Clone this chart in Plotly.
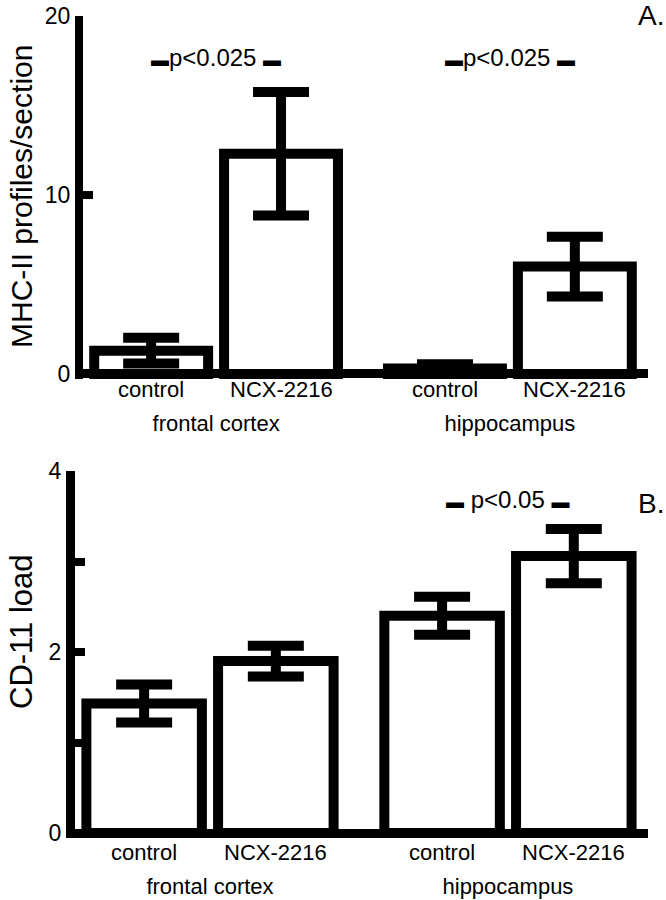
import plotly.graph_objects as go

# ---- data ----
regions = ["frontal cortex", "hippocampus"]
treatments = ["control", "NCX-2216"]

mhc_control = [1.3, 0.3]
mhc_control_err = [0.72, 0.25]
mhc_ncx = [12.3, 6.0]
mhc_ncx_err = [3.45, 1.67]

cd11_control = [1.43, 2.4]
cd11_control_err = [0.21, 0.21]
cd11_ncx = [1.9, 3.06]
cd11_ncx_err = [0.17, 0.3]

mhc_ticks = [0, 10, 20]
cd11_ticks = [0, 2, 4]

FONT = "Liberation Sans, Arial, DejaVu Sans, sans-serif"

fig = go.Figure()


def bar(x, y, err, xa, ya):
    return go.Bar(
        x=x, y=y, xaxis=xa, yaxis=ya,
        marker=dict(color="white", line=dict(color="black", width=10)),
        error_y=dict(type="data", array=err, visible=True, color="black",
                     thickness=10, width=28),
        showlegend=False, hoverinfo="skip",
    )


fig.add_trace(bar(regions, mhc_control, mhc_control_err, "x", "y"))
fig.add_trace(bar(regions, mhc_ncx, mhc_ncx_err, "x", "y"))
fig.add_trace(bar(regions, cd11_control, cd11_control_err, "x2", "y2"))
fig.add_trace(bar(regions, cd11_ncx, cd11_ncx_err, "x2", "y2"))

W, H = 666, 900

common_y = dict(
    automargin=False,
    showline=True, linecolor="black",
    zeroline=True, zerolinecolor="black", zerolinewidth=9,
    ticks="inside", ticklen=10, tickwidth=8, tickcolor="black",
    showgrid=False, tickfont=dict(size=23, color="black", family=FONT),
    fixedrange=True,
)
common_x = dict(
    automargin=False,
    type="category", showline=False, ticks="", showgrid=False, zeroline=False,
    range=[-0.453, 1.47], tickfont=dict(size=22, color="black", family=FONT),
    fixedrange=True,
)

fig.update_layout(
    width=W, height=H,
    margin=dict(l=0, r=0, t=0, b=0, autoexpand=False),
    paper_bgcolor="white", plot_bgcolor="white",
    barmode="group", bargap=0.116, bargroupgap=0.123,
    font=dict(family=FONT, color="black"),
    xaxis=dict(domain=[83 / W, 648 / W], anchor="y", ticklabelstandoff=29, **common_x),
    yaxis=dict(domain=[1 - 379 / H, 1 - 16 / H], anchor="x", range=[-0.28, 20],
               tickvals=mhc_ticks, linewidth=8, **common_y),
    xaxis2=dict(domain=[75 / W, 648 / W], anchor="y2", ticklabelstandoff=33, **common_x),
    yaxis2=dict(domain=[1 - 838 / H, 1 - 471 / H], anchor="x2", range=[-0.055, 4],
                tickvals=cd11_ticks, linewidth=9,
                minor=dict(dtick=1, ticks="inside", ticklen=10, tickwidth=8, tickcolor="black"),
                **common_y),
)

ann = []
# axis titles (rotated)
ann.append(dict(x=21 / W, y=1 - 197 / H, xref="paper", yref="paper",
                text="MHC-II profiles/section", textangle=-90, showarrow=False,
                xanchor="center", yanchor="middle", font=dict(size=30, family=FONT)))
ann.append(dict(x=21 / W, y=1 - 632 / H, xref="paper", yref="paper",
                text="CD-11 load", textangle=-90, showarrow=False,
                xanchor="center", yanchor="middle", font=dict(size=31, family=FONT)))

# treatment labels below bars
for xa, ya, yshift, off in (("x", "y", -16, 65), ("x2", "y2", -19, 66)):
    for r in regions:
        for t, s in zip(treatments, (-off, off)):
            ann.append(dict(x=r, y=0, xref=xa, yref=ya, text=t, showarrow=False,
                            xshift=s, yshift=yshift, yanchor="middle",
                            font=dict(size=22, family=FONT, color="black")))

SQ = "<span style='font-size:18px'>\u25ac</span>"
# significance labels
ann.append(dict(x=regions[0], y=17.7, xref="x", yref="y", text=SQ + "p<0.025 " + SQ,
                showarrow=False, font=dict(size=24, family=FONT, color="black")))
ann.append(dict(x=regions[1], y=17.7, xref="x", yref="y", text=SQ + "p<0.025 " + SQ,
                showarrow=False, font=dict(size=24, family=FONT, color="black")))
ann.append(dict(x=regions[1], y=3.68, xref="x2", yref="y2", text=SQ + " p<0.05 " + SQ,
                showarrow=False, font=dict(size=24, family=FONT, color="black")))

# panel letters
ann.append(dict(x=1, y=1 - 15 / H, xref="paper", yref="paper", text="A.", showarrow=False,
                xanchor="right", yanchor="middle", font=dict(size=28, family=FONT)))
ann.append(dict(x=1, y=1 - 503 / H, xref="paper", yref="paper", text="B.", showarrow=False,
                xanchor="right", yanchor="middle", font=dict(size=28, family=FONT)))

fig.update_layout(annotations=ann)

fig.write_html(
    "out.html",
    config={"displayModeBar": False},
    post_script="document.body.style.margin='0';document.body.style.overflow='hidden';",
)
